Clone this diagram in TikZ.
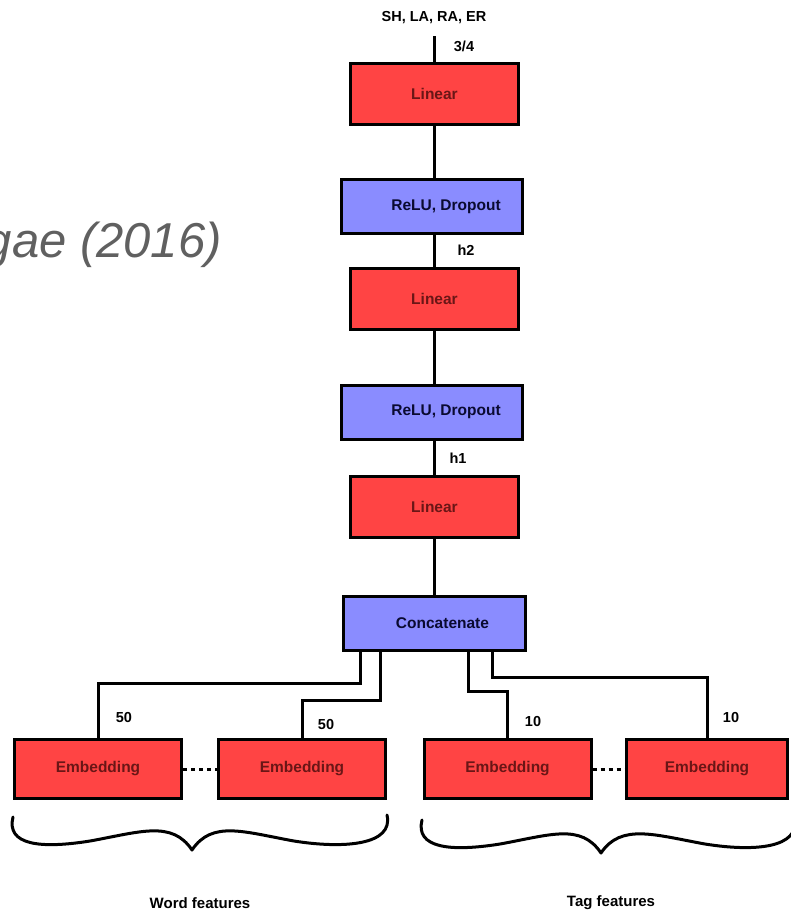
\documentclass[tikz,border=0pt]{standalone}
\usepackage{fontspec}
\setmainfont{Liberation Sans}
\usetikzlibrary{calc}
\definecolor{boxred}{HTML}{FF4444}
\definecolor{redtext}{HTML}{6A1616}
\definecolor{boxblue}{HTML}{8A8CFF}
\definecolor{bluetext}{HTML}{0A0A30}
\definecolor{titlegray}{HTML}{606060}
\begin{document}
\begin{tikzpicture}[x=1pt,y=-1pt,
  box/.style={draw=black,line width=3pt,inner sep=0pt,font=\fontsize{15.5}{18}\selectfont\bfseries},
  linbox/.style={box,fill=boxred,text=redtext,minimum width=168pt,minimum height=61pt},
  actbox/.style={box,fill=boxblue,text=bluetext,minimum width=181pt,minimum height=54pt},
  embbox/.style={box,fill=boxred,text=redtext,minimum width=167pt,minimum height=59pt},
  conn/.style={line width=3pt},
  dotconn/.style={line width=3pt,dash pattern=on 4pt off 4pt},
  lbl/.style={font=\fontsize{14.5}{17}\selectfont\bfseries,inner sep=0pt},
  feat/.style={font=\fontsize{15}{18}\selectfont\bfseries,inner sep=0pt,anchor=base},
  brace/.style={line width=3pt,line cap=round,line join=round},
]
\useasboundingbox (0,0) rectangle (791,911);

% title fragment
\node[anchor=base east,font=\fontsize{49}{55}\selectfont\itshape,text=titlegray,inner sep=0pt] (title) at (222,257) {gae (2016)};

% main column
\node[lbl] (out) at (434,18) {SH, LA, RA, ER};
\coordinate (top) at (434,36);
\node[linbox] (lin1) at (434.5,94) {Linear};
\node[actbox] (relu1) at (432,206.5) {\hspace*{28pt}ReLU, Dropout};
\node[linbox] (lin2) at (434.5,299) {Linear};
\node[actbox] (relu2) at (432,412) {\hspace*{28pt}ReLU, Dropout};
\node[linbox] (lin3) at (434.5,507) {Linear};
\node[actbox,minimum width=182pt] (cat) at (434.5,623) {\hspace*{16pt}Concatenate};

\draw[conn] (top) -- (top |- lin1.north);
\draw[conn] (lin1.south) -- (lin1.south |- relu1.north);
\draw[conn] (lin1.south |- relu1.south) -- (lin2.north);
\draw[conn] (lin2.south) -- (lin2.south |- relu2.north);
\draw[conn] (lin2.south |- relu2.south) -- (lin3.north);
\draw[conn] (lin3.south) -- (lin3.south |- cat.north);

\node[lbl] (l34) at (464,46) {3/4};
\node[lbl] (lh2) at (466,250) {h2};
\node[lbl] (lh1) at (458,458) {h1};

% embeddings
\node[embbox] (e1) at (98,769) {Embedding};
\node[embbox] (e2) at (302,769) {Embedding};
\node[embbox] (e3) at (507.5,769) {Embedding};
\node[embbox,minimum width=161pt] (e4) at (707,769) {Embedding};

\draw[dotconn] (e1.east) -- (e2.west);
\draw[dotconn] (e3.east) -- (e4.west);

% branches from concatenate
\coordinate (c1) at ($(cat.south west)+(18.5,0)$);
\coordinate (c2) at ($(cat.south west)+(38.5,0)$);
\coordinate (c3) at ($(cat.south west)+(126.5,0)$);
\coordinate (c4) at ($(cat.south west)+(150.5,0)$);
\coordinate (j1) at (0,683);
\coordinate (j2) at (0,700);
\coordinate (j3) at (0,691);
\coordinate (j4) at (0,677);
\draw[conn] (c1) -- (c1 |- j1) -| (e1.north);
\draw[conn] (c2) -- (c2 |- j2) -| (e2.north);
\draw[conn] (c3) -- (c3 |- j3) -| (e3.north);
\draw[conn] (c4) -- (c4 |- j4) -| (e4.north);

\node[lbl] (n1) at (124,717) {50};
\node[lbl] (n2) at (326,724) {50};
\node[lbl] (n3) at (533,721) {10};
\node[lbl] (n4) at (731,717) {10};

% braces
\draw[brace] (13,817) .. controls (6,845) and (40,849) .. (90,841)
  .. controls (140,832) and (172,820) .. (192,850)
  .. controls (212,820) and (244,832) .. (294,841)
  .. controls (344,849) and (394,845) .. (387,815);
\draw[brace] (422,820) .. controls (415,848) and (450,852) .. (500,844)
  .. controls (550,835) and (581,823) .. (601,853)
  .. controls (621,823) and (655,835) .. (705,844)
  .. controls (755,852) and (800,848) .. (795,818);

\node[feat] (wf) at (200,908) {Word features};
\node[feat] (tf) at (611,906) {Tag features};
\end{tikzpicture}
\end{document}
